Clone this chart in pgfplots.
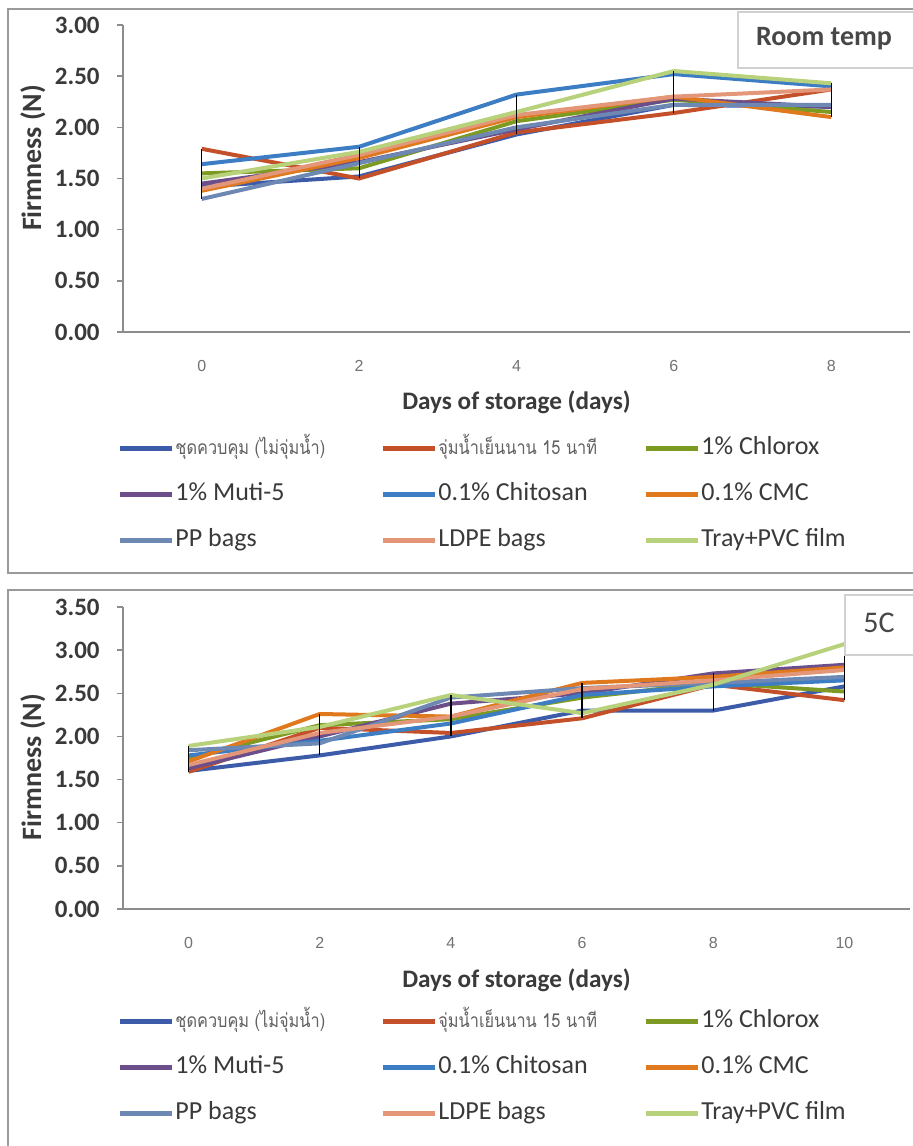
\documentclass[border=0pt]{standalone}
\usepackage{fontspec}
\setmainfont{Carlito}
\newfontfamily\thaifont[Script=Thai]{Loma}
\newfontfamily\arialfont{Liberation Sans}
\usepackage{graphicx}
\usepackage{pgfplots}
\usepackage{pgfplotstable}
\pgfplotsset{compat=1.18}

\definecolor{cCtrl}{HTML}{3C5BA9}
\definecolor{cDip}{HTML}{C4502A}
\definecolor{cChlorox}{HTML}{7D9A22}
\definecolor{cMuti}{HTML}{6B4E8A}
\definecolor{cChito}{HTML}{3C7DC4}
\definecolor{cCMC}{HTML}{E0781E}
\definecolor{cPP}{HTML}{6E88B4}
\definecolor{cLDPE}{HTML}{E39678}
\definecolor{cTray}{HTML}{B7D27A}
\definecolor{Frame}{HTML}{9A9A9A}
\definecolor{AxisGray}{HTML}{8C8C8C}
\definecolor{TextDark}{HTML}{3A3A3A}

% firmness (N), room temperature
\pgfplotstableread{
day ctrl dip chlorox muti chito cmc pp ldpe tray lo hi
0 1.42 1.79 1.55 1.45 1.64 1.38 1.30 1.40 1.50 1.30 1.79
2 1.52 1.50 1.60 1.66 1.81 1.70 1.65 1.73 1.76 1.50 1.81
4 1.93 1.95 2.06 1.98 2.32 2.10 2.00 2.12 2.15 1.93 2.32
6 2.22 2.14 2.27 2.28 2.52 2.30 2.22 2.30 2.55 2.14 2.55
8 2.20 2.37 2.15 2.20 2.40 2.10 2.22 2.37 2.43 2.10 2.43
}\roomdata

% firmness (N), 5 C
\pgfplotstableread{
day ctrl dip chlorox muti chito cmc pp ldpe tray lo hi
0 1.60 1.59 1.75 1.63 1.78 1.71 1.84 1.67 1.89 1.59 1.89
2 1.78 2.10 2.13 2.00 1.95 2.26 1.92 2.04 2.11 1.78 2.26
4 2.00 2.04 2.20 2.38 2.15 2.23 2.45 2.23 2.48 2.00 2.48
6 2.30 2.21 2.45 2.50 2.48 2.62 2.56 2.55 2.27 2.21 2.62
8 2.30 2.60 2.62 2.73 2.58 2.69 2.62 2.65 2.60 2.30 2.73
10 2.58 2.42 2.52 2.83 2.65 2.80 2.69 2.77 3.07 2.42 3.07
}\colddata

\newcommand{\legbox}[1]{\makebox[102pt][l]{#1}}
\newcommand{\thaileg}[1]{\legbox{\scalebox{0.85}[1]{\thaifont\fontsize{9.6}{11}\selectfont\color{black!62}#1}}}

\pgfplotsset{
  firm/.style={
    scale only axis, width=393.5pt,
    axis lines=left, axis line style={draw=AxisGray,line width=0.8pt,-},
    ymin=0,
    tick align=outside,
    y tick style={draw=AxisGray,line width=0.7pt},
    major tick length=3pt,
    x tick style={draw=none},
    /pgf/number format/assume math mode=true,
    yticklabel style={font=\fontsize{12.5}{14}\selectfont\bfseries,text=TextDark,anchor=east,inner sep=0pt,xshift=-8.5pt,
      /pgf/number format/.cd,fixed,fixed zerofill,precision=2},
    xticklabel style={font=\arialfont\fontsize{8}{9}\selectfont,text=black!55,anchor=center,inner sep=0pt,yshift=-14pt},
    ylabel={Firmness (N)},
    ylabel style={font=\fontsize{14}{16}\selectfont\bfseries,text=TextDark,anchor=center},
    xlabel={Days of storage (days)},
    xlabel style={font=\fontsize{12.6}{14}\selectfont\bfseries,text=TextDark,anchor=center},
    legend columns=3,
    legend style={draw=none,fill=none,anchor=north west,
      font=\fontsize{13}{15}\selectfont,text=TextDark,
      column sep=0pt,row sep=8pt,inner sep=0pt,
      nodes={inner xsep=0.5pt,inner ysep=1.5pt,text height=9pt,text depth=3pt,anchor=west},
      cells={anchor=west}},
    legend image code/.code={\draw[#1,line width=2.5pt] (0pt,0.3pt) -- (26pt,0.3pt);},
    every axis plot/.append style={line width=2pt,mark=none},
  },
  hilo/.style={draw=none,forget plot,
    error bars/.cd,y dir=minus,y explicit,error mark=none,
    error bar style={black,line width=0.6pt,solid}},
}

\begin{document}
\begin{tikzpicture}
\path[use as bounding box,fill=white] (0,0) rectangle (456.5pt,573pt);
\draw[Frame,line width=1pt] (4pt,568.5pt) rectangle (470pt,286.5pt);
\draw[Frame,line width=1pt] (4pt,278pt) rectangle (470pt,-10pt);

% ---------------- room temperature ----------------
\begin{axis}[firm,
  at={(61.5pt,407pt)},anchor=south west,height=153.5pt,
  xmin=-1,xmax=9,xtick={0,2,4,6,8},
  ymax=3,ytick={0,0.5,...,3},
  ylabel style={at={(axis description cs:-0.1144,0.567)}},
  xlabel style={at={(axis description cs:0.5,-0.228)}},
  legend style={at={(axis description cs:-0.0076,-0.330)}}]
\addplot[cCtrl]    table[x=day,y=ctrl]    {\roomdata};
\addplot[cDip]     table[x=day,y=dip]     {\roomdata};
\addplot[cChlorox] table[x=day,y=chlorox] {\roomdata};
\addplot[cMuti]    table[x=day,y=muti]    {\roomdata};
\addplot[cChito]   table[x=day,y=chito]   {\roomdata};
\addplot[cCMC]     table[x=day,y=cmc]     {\roomdata};
\addplot[cPP]      table[x=day,y=pp]      {\roomdata};
\addplot[cLDPE]    table[x=day,y=ldpe]    {\roomdata};
\addplot[cTray]    table[x=day,y=tray]    {\roomdata};
\addplot[hilo] table[x=day,y=hi,y error expr=\thisrow{hi}-\thisrow{lo}] {\roomdata};
\legend{\thaileg{ชุดควบคุม (ไม่จุ่มน้ำ)},\thaileg{จุ่มน้ำเย็นนาน 15 นาที},
  \legbox{1\% Chlorox},\legbox{1\% Muti-5},\legbox{0.1\% Chitosan},\legbox{0.1\% CMC},
  \legbox{PP bags},\legbox{LDPE bags},\legbox{Tray+PVC film}}
\end{axis}

% ---------------- 5 C ----------------
\begin{axis}[firm,
  at={(61.5pt,118.5pt)},anchor=south west,height=151pt,
  xmin=-1,xmax=11,xtick={0,2,4,6,8,10},
  ymax=3.5,ytick={0,0.5,...,3.5},
  ylabel style={at={(axis description cs:-0.1144,0.47)}},
  xlabel style={at={(axis description cs:0.5,-0.235)}},
  legend style={at={(axis description cs:-0.0076,-0.322)}}]
\addplot[cCtrl]    table[x=day,y=ctrl]    {\colddata};
\addplot[cDip]     table[x=day,y=dip]     {\colddata};
\addplot[cChlorox] table[x=day,y=chlorox] {\colddata};
\addplot[cMuti]    table[x=day,y=muti]    {\colddata};
\addplot[cChito]   table[x=day,y=chito]   {\colddata};
\addplot[cCMC]     table[x=day,y=cmc]     {\colddata};
\addplot[cPP]      table[x=day,y=pp]      {\colddata};
\addplot[cLDPE]    table[x=day,y=ldpe]    {\colddata};
\addplot[cTray]    table[x=day,y=tray]    {\colddata};
\addplot[hilo] table[x=day,y=hi,y error expr=\thisrow{hi}-\thisrow{lo}] {\colddata};
\legend{\thaileg{ชุดควบคุม (ไม่จุ่มน้ำ)},\thaileg{จุ่มน้ำเย็นนาน 15 นาที},
  \legbox{1\% Chlorox},\legbox{1\% Muti-5},\legbox{0.1\% Chitosan},\legbox{0.1\% CMC},
  \legbox{PP bags},\legbox{LDPE bags},\legbox{Tray+PVC film}}
\end{axis}

% panel titles
\draw[black!18,line width=0.6pt,fill=white] (369pt,567pt) rectangle (470pt,539pt);
\node[font=\fontsize{14}{16}\selectfont\bfseries,text=black!72] at (412pt,553.5pt) {Room temp};
\draw[black!18,line width=0.6pt,fill=white] (422.5pt,275.5pt) rectangle (470pt,245.5pt);
\node[font=\fontsize{15}{17}\selectfont,text=black!72] at (439.5pt,261.5pt) {5C};
\end{tikzpicture}
\end{document}
